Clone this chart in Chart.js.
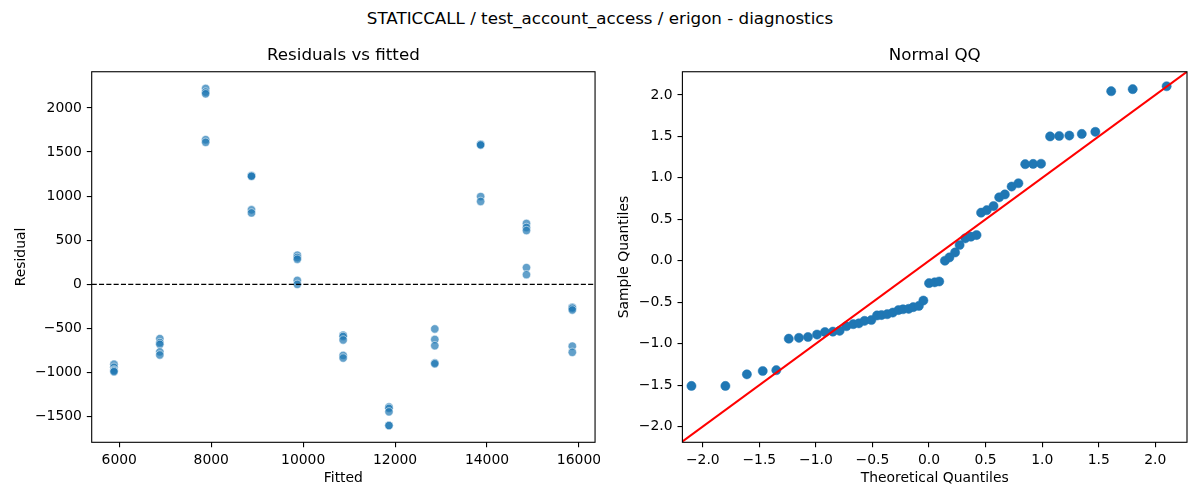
<!DOCTYPE html>
<html>
<head>
<meta charset="utf-8">
<script src="https://cdn.jsdelivr.net/npm/chart.js@4.4.1/dist/chart.umd.min.js"></script>
<style>
  html, body { margin: 0; padding: 0; background: #fff; }
  body { width: 1200px; height: 500px; position: relative; overflow: hidden; font-family: "DejaVu Sans", sans-serif; }
  #suptitle { position: absolute; left: 0; top: 8px; width: 1200px; text-align: center; font-size: 16.7px; line-height: 20px; color: #000; }
  .box { position: absolute; top: 0; width: 600px; height: 500px; }
  .box canvas { display: block; }
</style>
</head>
<body>
<div id="suptitle">STATICCALL / test_account_access / erigon - diagnostics</div>
<div class="box" style="left:0"><canvas id="residChart" width="600" height="500"></canvas></div>
<div class="box" style="left:600px"><canvas id="qqChart" width="600" height="500"></canvas></div>
<script>
// fitted value of each group and the residuals seen at that fitted value
const fittedValues = [5885, 6882, 7879, 8876, 9873, 10870, 11867, 12864, 13861, 14858, 15855];
const residualsByFit = [
    [-905, -940, -970, -980, -990],
    [-615, -660, -680, -765, -800],
    [2220, 2180, 2160, 1640, 1610],
    [1235, 1230, 1225, 845, 810],
    [330, 305, 285, 45, 0],
    [-575, -590, -630, -805, -835],
    [-1390, -1405, -1445, -1600, -1600],
    [-505, -625, -695, -890, -900],
    [1590, 1585, 1580, 995, 940],
    [690, 645, 610, 190, 110],
    [-260, -270, -290, -700, -770]
];

// normal QQ points
const theoQuantiles = [-2.10, -1.80, -1.61, -1.47, -1.35, -1.24, -1.15, -1.07, -0.99, -0.92,
    -0.85, -0.79, -0.73, -0.67, -0.62, -0.57, -0.51, -0.46, -0.42, -0.37,
    -0.32, -0.27, -0.23, -0.18, -0.14, -0.09, -0.05, 0.00, 0.05, 0.09,
    0.14, 0.18, 0.23, 0.27, 0.32, 0.37, 0.42, 0.46, 0.51, 0.57,
    0.62, 0.67, 0.73, 0.79, 0.85, 0.92, 0.99, 1.07, 1.15, 1.24,
    1.35, 1.47, 1.61, 1.80, 2.10];
const sampleQuantiles = [-1.51, -1.51, -1.37, -1.33, -1.32, -0.94, -0.93, -0.92, -0.89, -0.86,
    -0.855, -0.845, -0.79, -0.765, -0.755, -0.725, -0.715, -0.66, -0.655, -0.645,
    -0.625, -0.595, -0.585, -0.58, -0.56, -0.545, -0.48, -0.27, -0.26, -0.25,
    0.00, 0.04, 0.10, 0.19, 0.27, 0.29, 0.31, 0.58, 0.61, 0.66,
    0.765, 0.80, 0.895, 0.935, 1.165, 1.168, 1.17, 1.50, 1.505, 1.51,
    1.53, 1.555, 2.045, 2.07, 2.105];

// axis ranges and tick labels
const fittedRange = [5400, 16350];
const residRange = [-1790, 2410];
const fittedTicks = [6000, 8000, 10000, 12000, 14000, 16000];
const residTicks = [-1500, -1000, -500, 0, 500, 1000, 1500, 2000];
const theoRange = [-2.18, 2.28];
const sampleRange = [-2.19, 2.28];
const qqTicks = [-2.0, -1.5, -1.0, -0.5, 0.0, 0.5, 1.0, 1.5, 2.0];
const qqLineEnds = [-2.4, 2.4];

Chart.defaults.font.family = "'DejaVu Sans', sans-serif";
Chart.defaults.color = '#000';

const tickFont = { size: 13.9 };
const labelFont = { size: 13.9, lineHeight: 1.2 };
const minus = s => s.replace('-', '\u2212');

// black box around the plotting area, like matplotlib spines
const framePlugin = {
    id: 'frame',
    afterDraw(chart) {
        const { ctx, chartArea: a } = chart;
        ctx.save();
        ctx.strokeStyle = '#000';
        ctx.lineWidth = 1.1;
        ctx.strokeRect(a.left, a.top, a.right - a.left, a.bottom - a.top);
        ctx.restore();
    }
};

function makeAxis(range, tickValues, fmt, title, titlePad, size, horizontal) {
    return {
        type: 'linear',
        min: range[0],
        max: range[1],
        afterBuildTicks: s => { s.ticks = tickValues.map(v => ({ value: v })); },
        afterFit: s => {
            // fixed axis size, and no extra room for labels hanging past the ends
            if (horizontal) { s.height = size; s.paddingLeft = 0; s.paddingRight = 0; }
            else { s.width = size; s.paddingTop = 0; s.paddingBottom = 0; }
        },
        grid: { drawOnChartArea: false, drawTicks: true, tickLength: 4.9, color: '#000', lineWidth: 1.1 },
        border: { display: false },
        ticks: { color: '#000', font: tickFont, padding: 4.9, maxRotation: 0, autoSkip: false, callback: v => fmt(v) },
        title: { display: true, text: title, color: '#000', font: labelFont, padding: titlePad }
    };
}

function makeTitle(text) {
    return {
        display: true, text: text, color: '#000', fullSize: false,
        font: { size: 16.7, weight: 'normal', lineHeight: 1.2 },
        padding: { top: 45.8, bottom: 5.9 }
    };
}

// Residuals vs fitted
const residPoints = [];
fittedValues.forEach((f, i) => {
    residualsByFit[i].forEach(r => residPoints.push({ x: f, y: r }));
});

new Chart(document.getElementById('residChart'), {
    type: 'scatter',
    data: {
        datasets: [
            {
                type: 'line',
                data: [{ x: fittedRange[0], y: 0 }, { x: fittedRange[1], y: 0 }],
                borderColor: '#000', borderWidth: 1.4, borderDash: [5.1, 2.2],
                pointRadius: 0, clip: 0, order: 0
            },
            {
                data: residPoints,
                backgroundColor: 'rgba(31,119,180,0.7)',
                borderColor: 'rgba(255,255,255,0.7)',
                borderWidth: 0.75, pointRadius: 4.2, order: 1
            }
        ]
    },
    options: {
        responsive: false, animation: false, devicePixelRatio: 1,
        layout: { padding: { left: 0, right: 4.5, top: 0, bottom: 0 } },
        plugins: { legend: { display: false }, tooltip: { enabled: false }, title: makeTitle('Residuals vs fitted') },
        scales: {
            x: makeAxis(fittedRange, fittedTicks, v => String(v), 'Fitted', { top: 0, bottom: 13.7 }, 57.7, true),
            y: makeAxis(residRange, residTicks, v => minus(String(v)), 'Residual', { top: 13.4, bottom: 0 }, 91.7, false)
        }
    },
    plugins: [framePlugin]
});

// Normal QQ
const qqPoints = theoQuantiles.map((t, i) => ({ x: t, y: sampleQuantiles[i] }));

new Chart(document.getElementById('qqChart'), {
    type: 'scatter',
    data: {
        datasets: [
            {
                type: 'line',
                data: qqLineEnds.map(v => ({ x: v, y: v })),
                borderColor: '#ff0000', borderWidth: 2.1,
                pointRadius: 0, clip: 0, order: 0
            },
            {
                data: qqPoints,
                backgroundColor: '#1f77b4',
                borderColor: '#1f77b4',
                borderWidth: 0.5, pointRadius: 4.6, order: 1
            }
        ]
    },
    options: {
        responsive: false, animation: false, devicePixelRatio: 1,
        layout: { padding: { left: 0, right: 13, top: 0, bottom: 0 } },
        plugins: { legend: { display: false }, tooltip: { enabled: false }, title: makeTitle('Normal QQ') },
        scales: {
            x: makeAxis(theoRange, qqTicks, v => minus(v.toFixed(1)), 'Theoretical Quantiles', { top: 0, bottom: 13.7 }, 57.7, true),
            y: makeAxis(sampleRange, qqTicks, v => minus(v.toFixed(1)), 'Sample Quantiles', { top: 15.7, bottom: 0 }, 82.4, false)
        }
    },
    plugins: [framePlugin]
});
</script>
</body>
</html>
